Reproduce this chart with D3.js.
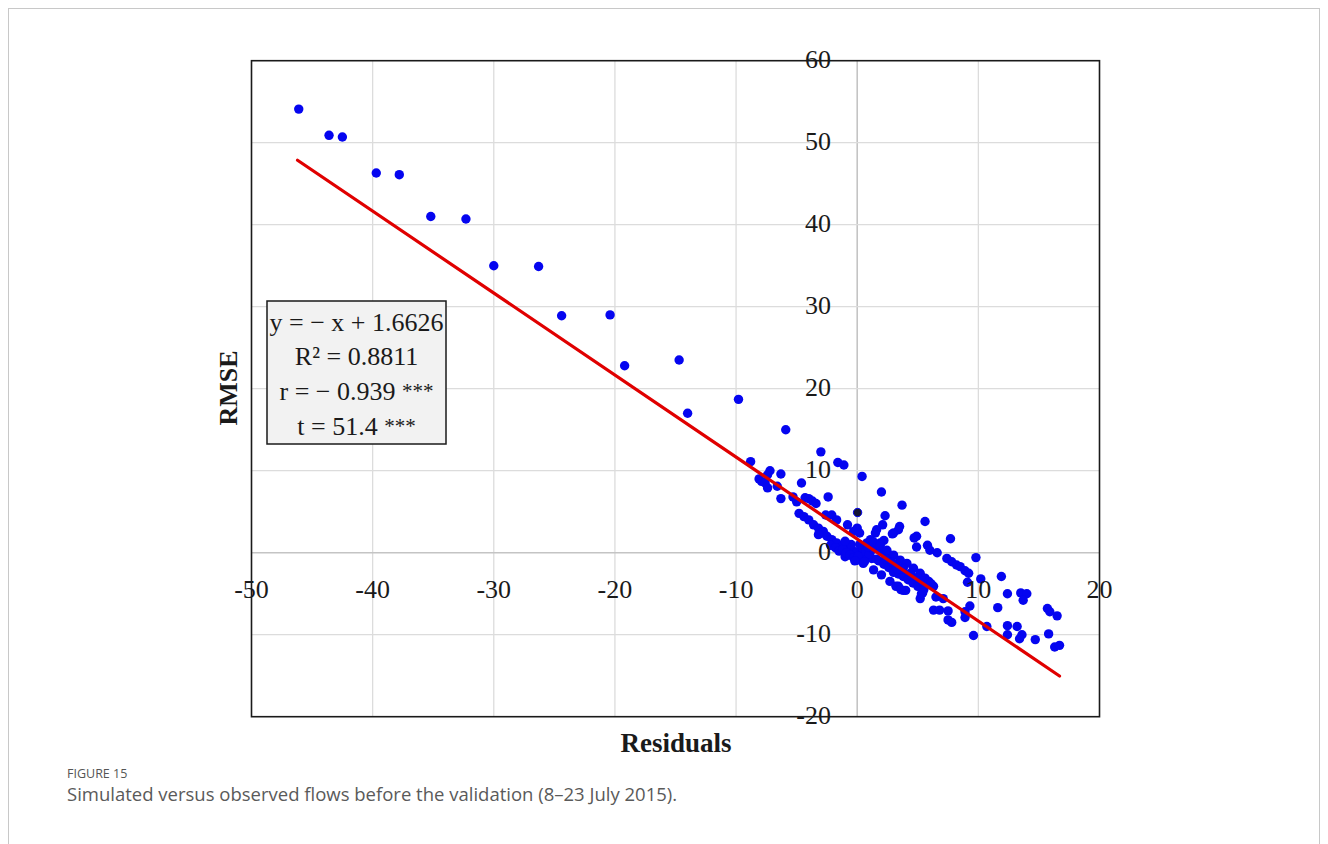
<!DOCTYPE html>
<html>
<head>
<meta charset="utf-8">
<script src="https://cdn.jsdelivr.net/npm/d3@7"></script>
<style>
  html, body { margin: 0; padding: 0; background: #fff; }
  svg { display: block; }
</style>
</head>
<body>
<svg id="chart" width="1328" height="844"></svg>
<script>
// residuals (x) vs RMSE (y)
const points = [
  [-46.1, 54.1], [-43.6, 50.9], [-42.5, 50.7], [-39.7, 46.3], [-37.8, 46.1],
  [-35.2, 41.0], [-32.3, 40.7], [-30.0, 35.0], [-26.3, 34.9], [-24.4, 28.9],
  [-20.4, 29.0], [-19.2, 22.8], [-14.7, 23.5], [-14.0, 17.0], [-9.8, 18.7],
  [-5.9, 15.0], [-3.0, 12.3], [-1.6, 11.0], [-1.1, 10.7], [0.4, 9.3],
  [-8.8, 11.1], [-7.2, 10.0], [-7.4, 9.5], [-8.1, 9.0], [-7.9, 8.7],
  [-7.6, 8.5], [-7.4, 7.9], [-6.3, 9.6], [-6.6, 8.1], [-6.3, 6.6],
  [-4.6, 8.5], [-5.3, 6.8], [-5.0, 6.2], [-4.3, 6.7], [-4.0, 6.6],
  [-3.7, 6.3], [-3.4, 6.0], [-2.4, 6.8], [-4.8, 4.8], [-4.4, 4.4],
  [-4.0, 4.0], [-3.6, 3.4], [-3.2, 3.0], [-2.8, 2.6], [-2.6, 4.6],
  [-2.1, 4.6], [-1.7, 4.0], [-0.8, 3.4], [0.0, 3.0], [0.2, 2.4],
  [-0.3, 2.6], [-2.9, 2.4], [-2.5, 2.0], [-2.1, 1.6], [-1.7, 1.2],
  [-1.3, 0.7], [-0.8, 0.5], [-0.4, 0.3], [0.0, 0.1], [0.4, -0.1],
  [0.8, -0.5], [1.2, -0.7], [-1.0, -0.5], [0.0, -0.9], [0.5, -1.3],
  [-3.2, 2.2], [-2.2, 0.9], [-1.8, 0.6], [-1.5, 0.2], [-1.2, 0.4],
  [-0.9, 0.0], [-0.6, -0.3], [-0.3, -0.6], [0.1, -0.4], [0.4, 0.6],
  [0.7, 0.2], [1.0, -0.2], [1.3, 0.4], [1.6, -0.8], [-0.5, 1.0],
  [-1.0, 1.4], [0.2, 1.0], [0.6, -1.1], [-0.2, -1.0], [0.8, 1.2],
  [1.2, 1.0], [1.5, 0.8], [2.0, 0.3], [2.4, 0.0], [2.8, -0.4],
  [2.0, 7.4], [3.7, 5.8], [2.3, 4.5], [5.6, 3.8], [2.1, 3.4],
  [1.6, 2.8], [1.5, 2.4], [3.5, 3.2], [3.4, 2.8], [3.0, 2.4],
  [2.9, 2.3], [4.9, 2.0], [7.7, 1.7], [1.1, 1.6], [2.2, 1.5],
  [1.9, 1.2], [0.9, 0.7], [4.7, 1.8], [4.9, 0.7], [5.8, 0.9],
  [6.0, 0.3], [6.6, 0.0], [7.4, -0.7], [7.8, -1.1], [8.2, -1.5],
  [8.5, -1.7], [8.9, -2.2], [9.2, -2.5], [9.8, -0.6], [10.2, -3.2],
  [9.1, -3.6], [11.9, -2.9], [12.4, -5.0], [13.5, -4.9], [14.0, -5.0],
  [13.7, -5.8], [15.7, -6.8], [15.9, -7.2], [16.5, -7.7], [11.6, -6.7],
  [9.3, -6.5], [8.9, -7.2], [8.9, -7.9], [10.7, -9.0], [9.6, -10.1],
  [12.4, -8.9], [13.2, -9.0], [12.4, -10.0], [13.6, -10.0], [13.4, -10.5],
  [14.7, -10.6], [15.8, -9.9], [16.3, -11.5], [16.7, -11.3],
  [1.35, 1.3], [1.9, 0.9], [2.45, 0.3], [3.0, -0.3], [3.55, -0.9],
  [4.1, -1.3], [4.65, -1.9], [5.2, -2.5], [5.6, -3.1], [6.0, -3.7],
  [4.4, -2.5], [3.8, -1.9], [3.3, -1.5], [2.7, -1.1], [5.2, -3.5],
  [1.8, -1.0], [2.2, -1.4], [2.6, -1.8], [3.0, -2.1], [3.4, -2.6],
  [3.8, -2.9], [4.2, -3.3], [4.6, -3.7], [5.0, -4.1], [5.5, -4.5],
  [6.3, -4.1], [6.5, -5.4], [2.4, -0.8], [2.9, -1.2], [3.7, -2.0],
  [4.5, -2.8], [5.0, -3.1], [5.4, -3.5], [5.9, -3.5], [6.1, -3.8],
  [7.1, -5.6], [1.35, -2.1], [2.0, -2.7], [2.7, -3.5], [3.4, -4.1],
  [3.8, -4.6], [3.2, -4.1], [4.0, -4.6], [3.6, -4.5], [5.2, -5.6],
  [5.3, -5.0], [5.4, -4.9], [6.3, -7.0], [6.8, -7.0], [7.5, -7.1],
  [7.5, -8.2], [7.8, -8.5], [3.0, -2.4], [3.3, -2.0]
];
const darkPoints = [[0.03, 4.9]];

const xTicks = [-50, -40, -30, -20, -10, 0, 10, 20];
const yTicks = [-20, -10, 0, 10, 20, 30, 40, 50, 60];
const fitRange = [-46.2, 16.7];
const slope = -1;
const intercept = 1.6626;
// [main text, significance stars]
const statLines = [
  ["y = \u2212 x + 1.6626", ""],
  ["R\u00b2 = 0.8811", ""],
  ["r = \u2212 0.939 ", "***"],
  ["t = 51.4 ", "***"]
];

(function () {
  const svg = d3.select("#chart");
  const serif = "'Liberation Serif', 'Times New Roman', serif";

  const x = d3.scaleLinear().domain([-50, 20]).range([251.5, 1099.5]);
  const y = d3.scaleLinear().domain([-20, 60]).range([716.7, 60.7]);

  // outer figure border
  svg.append("rect")
    .attr("x", 8.5).attr("y", 8.5)
    .attr("width", 1311).attr("height", 900)
    .attr("fill", "none").attr("stroke", "#c8c8c8").attr("stroke-width", 1);

  const grid = svg.append("g");
  grid.selectAll("line.vx")
    .data(xTicks.filter((d) => d > -50 && d < 20))
    .join("line")
    .attr("x1", (d) => x(d)).attr("x2", (d) => x(d))
    .attr("y1", y(60)).attr("y2", y(-20))
    .attr("stroke", (d) => (d === 0 ? "#c4c4c4" : "#dcdcdc"))
    .attr("stroke-width", (d) => (d === 0 ? 1.6 : 1.3));
  grid.selectAll("line.hy")
    .data(yTicks.filter((d) => d > -20 && d < 60))
    .join("line")
    .attr("y1", (d) => y(d)).attr("y2", (d) => y(d))
    .attr("x1", x(-50)).attr("x2", x(20))
    .attr("stroke", (d) => (d === 0 ? "#c4c4c4" : "#dcdcdc"))
    .attr("stroke-width", (d) => (d === 0 ? 1.6 : 1.3));

  // plot frame
  svg.append("rect")
    .attr("x", x(-50)).attr("y", y(60))
    .attr("width", x(20) - x(-50)).attr("height", y(-20) - y(60))
    .attr("fill", "none").attr("stroke", "#1a1a1a").attr("stroke-width", 1.6);

  svg.append("g")
    .selectAll("circle")
    .data(points)
    .join("circle")
    .attr("cx", (d) => x(d[0]))
    .attr("cy", (d) => y(d[1]))
    .attr("r", 4.7)
    .attr("fill", "#0505f0");

  svg.append("g")
    .selectAll("circle")
    .data(darkPoints)
    .join("circle")
    .attr("cx", (d) => x(d[0]))
    .attr("cy", (d) => y(d[1]))
    .attr("r", 4.2)
    .attr("fill", "#141432")
    .attr("stroke", "#0505f0")
    .attr("stroke-width", 1);

  // regression line
  svg.append("line")
    .attr("x1", x(fitRange[0])).attr("y1", y(slope * fitRange[0] + intercept))
    .attr("x2", x(fitRange[1])).attr("y2", y(slope * fitRange[1] + intercept))
    .attr("stroke", "#e00000").attr("stroke-width", 3.2)
    .attr("stroke-linecap", "round");

  // tick labels, drawn through the zero axes
  svg.append("g")
    .selectAll("text")
    .data(yTicks)
    .join("text")
    .attr("x", 831)
    .attr("y", (d) => y(d) + 7)
    .attr("text-anchor", "end")
    .attr("font-family", serif)
    .attr("font-size", 26)
    .attr("fill", "#1a1a1a")
    .text((d) => d);

  svg.append("g")
    .selectAll("text")
    .data(xTicks)
    .join("text")
    .attr("x", (d) => x(d))
    .attr("y", y(0) + 45)
    .attr("text-anchor", "middle")
    .attr("font-family", serif)
    .attr("font-size", 26)
    .attr("fill", "#1a1a1a")
    .text((d) => d);

  // stats box
  svg.append("rect")
    .attr("x", 267).attr("y", 301)
    .attr("width", 179).attr("height", 143)
    .attr("fill", "#f2f2f2").attr("stroke", "#1a1a1a").attr("stroke-width", 1.5);
  const stat = svg.append("g")
    .selectAll("text")
    .data(statLines)
    .join("text")
    .attr("x", 356.5)
    .attr("y", (d, i) => 330.5 + i * 34.8)
    .attr("text-anchor", "middle")
    .attr("font-family", serif)
    .attr("font-size", 26)
    .attr("fill", "#1a1a1a");
  stat.append("tspan").text((d) => d[0]);
  stat.append("tspan")
    .attr("font-size", 21)
    .attr("dy", -2)
    .text((d) => d[1]);

  // axis titles
  svg.append("text")
    .attr("x", 676).attr("y", 752)
    .attr("text-anchor", "middle")
    .attr("font-family", serif)
    .attr("font-weight", "bold")
    .attr("font-size", 27)
    .attr("fill", "#1a1a1a")
    .text("Residuals");
  svg.append("text")
    .attr("transform", "translate(237,388) rotate(-90)")
    .attr("text-anchor", "middle")
    .attr("font-family", serif)
    .attr("font-weight", "bold")
    .attr("font-size", 26)
    .attr("fill", "#1a1a1a")
    .text("RMSE");

  // caption
  svg.append("text")
    .attr("x", 67).attr("y", 778)
    .attr("font-family", "'Open Sans', sans-serif")
    .attr("font-size", 12.5)
    .attr("fill", "#555")
    .text("FIGURE 15");
  svg.append("text")
    .attr("x", 67).attr("y", 801)
    .attr("font-family", "'Open Sans', sans-serif")
    .attr("font-size", 18.5)
    .attr("fill", "#5a5a5a")
    .text("Simulated versus observed flows before the validation (8\u201323 July 2015).");
})();
</script>
</body>
</html>
